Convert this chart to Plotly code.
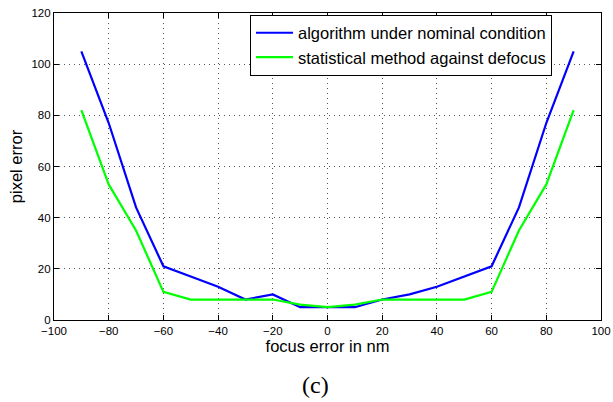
import plotly.graph_objects as go

focus_nm = [-90, -80, -70, -60, -50, -40, -30, -20, -10, 0, 10, 20, 30, 40, 50, 60, 70, 80, 90]
algo_nominal = [105, 77, 44, 21, 17, 13, 8, 10, 5, 5, 5, 8, 10, 13, 17, 21, 44, 77, 105]
stat_defocus = [82, 53, 35, 11, 8, 8, 8, 8, 6, 5, 6, 8, 8, 8, 8, 11, 35, 53, 82]

x_ticks = [-100, -80, -60, -40, -20, 0, 20, 40, 60, 80, 100]
y_ticks = [0, 20, 40, 60, 80, 100, 120]

SANS = "Liberation Sans, Arial, Helvetica, sans-serif"

fig = go.Figure()
fig.add_trace(go.Scatter(x=focus_nm, y=algo_nominal, mode="lines",
                         name="algorithm under nominal condition",
                         line=dict(color="#0000FF", width=2.2)))
fig.add_trace(go.Scatter(x=focus_nm, y=stat_defocus, mode="lines",
                         name="statistical method against defocus",
                         line=dict(color="#00FF00", width=2.2)))

axis_common = dict(
    showline=True, linecolor="black", linewidth=1.2, mirror="ticks",
    ticks="inside", ticklen=5, tickcolor="black", tickwidth=1,
    showgrid=True, gridcolor="#555555", griddash="1px,4px", gridwidth=1,
    zeroline=False, automargin=False, ticklabeloverflow="allow",
    tickfont=dict(family=SANS, size=11.5, color="black"),
)

fig.update_xaxes(range=[-100, 100], tickvals=x_ticks,
                 title=dict(text="focus error in nm", font=dict(family=SANS, size=16.5, color="black"), standoff=1),
                 **axis_common)
fig.update_yaxes(range=[0, 120], tickvals=y_ticks,
                 title=dict(text="pixel error", font=dict(family=SANS, size=16.5, color="black"), standoff=4),
                 **axis_common)

fig.add_annotation(text="(c)", xref="paper", yref="paper", x=0.478, y=-0.212,
                   xanchor="center", yanchor="middle", showarrow=False,
                   font=dict(family="Liberation Serif, Times New Roman, serif", size=24, color="black"))

fig.update_layout(
    width=613, height=402,
    margin=dict(l=54, r=12, t=13, b=82),
    plot_bgcolor="white", paper_bgcolor="white",
    legend=dict(x=0.9104, y=0.995, xanchor="right", yanchor="top",
                bgcolor="white", bordercolor="black", borderwidth=1,
                font=dict(family=SANS, size=16.5, color="black"),
                tracegroupgap=0, itemwidth=37),
    showlegend=True,
)

fig.write_html("out.html", config={"displayModeBar": False},
               post_script="document.body.style.margin='0px';")
